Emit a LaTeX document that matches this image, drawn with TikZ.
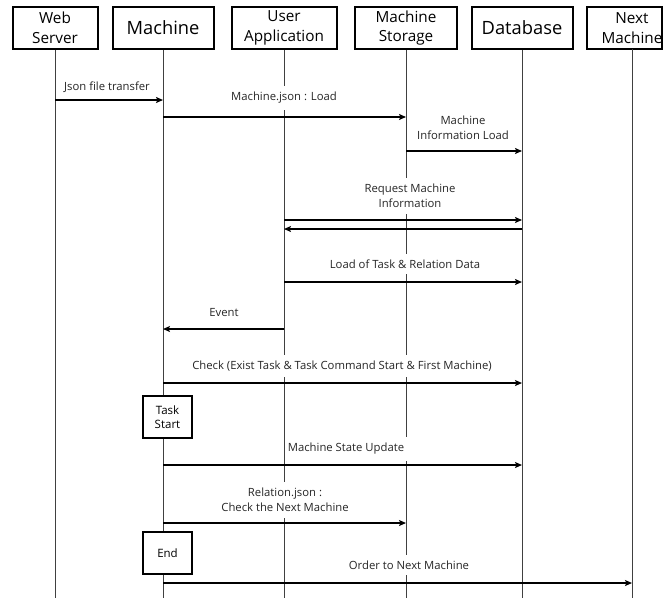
\documentclass[tikz,border=0pt]{standalone}
\usepackage{fontspec}
\setmainfont{Open Sans}
\usetikzlibrary{arrows.meta}
\begin{document}
\begin{tikzpicture}[x=1pt,y=-1pt,
  titlebox/.style={draw, line width=2pt, fill=white, minimum height=42pt, inner sep=0pt, align=center},
  bigtitle/.style={font=\fontsize{18.3}{22}\selectfont},
  smalltitle/.style={font=\fontsize{15.3}{19.5}\selectfont},
  life/.style={draw=black!75, line width=1pt},
  msg/.style={line width=1.2pt, -{Stealth[length=7pt,width=6pt,inset=1.5pt]}},
  lbl/.style={fill=white, inner xsep=3pt, inner ysep=6pt, align=center, font=\fontsize{11.3}{14.5}\selectfont, text=black!85},
  actbox/.style={draw, line width=2pt, fill=white, minimum width=49pt, minimum height=42pt, inner sep=0pt, align=center, font=\fontsize{11.5}{14.5}\selectfont}
]
\useasboundingbox[fill=white] (0,0) rectangle (664,598);

% participants
\node[titlebox, smalltitle, minimum width=85pt] (ws) at (55,28) {Web\\Server};
\node[titlebox, bigtitle, minimum width=101pt] (m) at (163,28) {Machine};
\node[titlebox, smalltitle, minimum width=105pt] (ua) at (284,28) {User\\Application};
\node[titlebox, smalltitle, minimum width=102pt] (ms) at (406,28) {Machine\\Storage};
\node[titlebox, bigtitle, minimum width=101pt] (db) at (522,28) {Database};
\node[smalltitle, inner sep=0pt, align=center] (nm) at (632,28) {Next\\Machine};
\draw[line width=2pt] (587,7) rectangle (662,49);

% lifelines
\coordinate (bot) at (0,598);
\draw[life] (ws.south) -- (ws |- bot);
\draw[life] (m.south) -- (m |- bot);
\draw[life] (ua.south) -- (ua |- bot);
\draw[life] (ms.south) -- (ms |- bot);
\draw[life] (db.south) -- (db |- bot);
\draw[life] (nm |- 0,49) -- (nm |- bot);

% activity boxes
\node[actbox] (ts) at (167.5,417) {Task\\Start};
\node[actbox] (en) at (167.5,553) {End};

% labels
\node[lbl] (l1) at (107,87) {Json file transfer};
\node[lbl] (l2) at (284,98) {Machine.json : Load};
\node[lbl] (l3) at (463,128) {Machine\\Information Load};
\node[lbl] (l4) at (410,196) {Request Machine\\Information};
\node[lbl] (l5) at (405,264) {Load of Task \& Relation Data};
\node[lbl] (l6) at (224,313) {Event};
\node[lbl] (l7) at (342,366) {Check (Exist Task \& Task Command Start \& First Machine)};
\node[lbl] (l8) at (346,449) {Machine State Update};
\node[lbl] (l9) at (285,500) {Relation.json :\\Check the Next Machine};
\node[lbl] (l10) at (409,565) {Order to Next Machine};

% message rows
\coordinate (r1) at (0,100);
\coordinate (r2) at (0,117);
\coordinate (r3) at (0,151);
\coordinate (r4) at (0,220);
\coordinate (r5) at (0,229);
\coordinate (r6) at (0,282);
\coordinate (r7) at (0,329);
\coordinate (r8) at (0,383);
\coordinate (r9) at (0,465);
\coordinate (r10) at (0,523);
\coordinate (r11) at (0,583);

% messages
\draw[msg] (ws |- r1) -- (m |- r1);
\draw[msg] (m |- r2) -- (ms |- r2);
\draw[msg] (ms |- r3) -- (db |- r3);
\draw[msg] (ua |- r4) -- (db |- r4);
\draw[msg] (db |- r5) -- (ua |- r5);
\draw[msg] (ua |- r6) -- (db |- r6);
\draw[msg] (ua |- r7) -- (m |- r7);
\draw[msg] (m |- r8) -- (db |- r8);
\draw[msg] (m |- r9) -- (db |- r9);
\draw[msg] (m |- r10) -- (ms |- r10);
\draw[msg] (m |- r11) -- (nm |- r11);
\end{tikzpicture}
\end{document}
